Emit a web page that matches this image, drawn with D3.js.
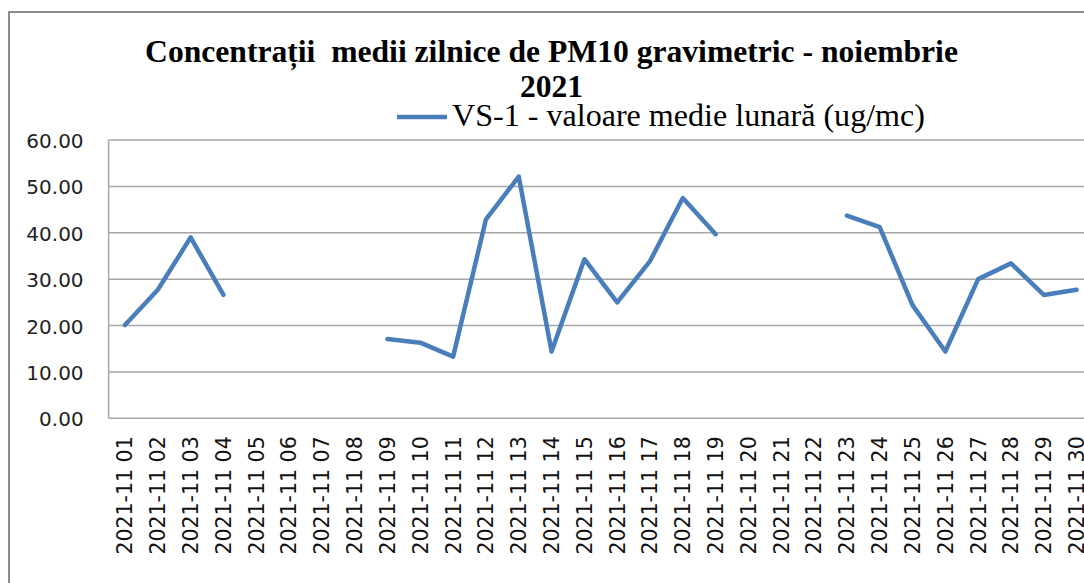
<!DOCTYPE html>
<html><head><meta charset="utf-8">
<script src="https://cdn.jsdelivr.net/npm/d3@7"></script>
<style>body{margin:0;background:#fff;overflow:hidden}</style>
</head><body>
<svg id="c" width="1084" height="583"></svg>
<script>
const days = ["2021-11 01","2021-11 02","2021-11 03","2021-11 04","2021-11 05","2021-11 06","2021-11 07","2021-11 08","2021-11 09","2021-11 10","2021-11 11","2021-11 12","2021-11 13","2021-11 14","2021-11 15","2021-11 16","2021-11 17","2021-11 18","2021-11 19","2021-11 20","2021-11 21","2021-11 22","2021-11 23","2021-11 24","2021-11 25","2021-11 26","2021-11 27","2021-11 28","2021-11 29","2021-11 30"];
const values = [20.1,27.7,39.0,26.6,null,null,null,null,17.1,16.3,13.3,42.9,52.1,14.4,34.3,25.0,33.9,47.5,39.7,null,null,null,43.7,41.2,24.4,14.4,30.0,33.4,26.6,27.7];
const yTicks = [0,10,20,30,40,50,60];
const titleLines = ["Concentrații  medii zilnice de PM10 gravimetric - noiembrie","2021"];
const seriesName = "VS-1 - valoare medie lunară (ug/mc)";

const svg = d3.select("#c");
const color = "#4a7ebb";
const L = 108.6, R = 1093, T = 140, B = 418.3;

// outer chart border
svg.append("rect").attr("x",9).attr("y",12).attr("width",1200).attr("height",700)
  .attr("fill","none").attr("stroke","#8c8c8c").attr("stroke-width",2);

const x = d3.scaleBand().domain(days).range([L,R]);
const y = d3.scaleLinear().domain([0,60]).range([B,T]);

// gridlines
svg.append("g").selectAll("line").data(yTicks).join("line")
  .attr("x1",L).attr("x2",R).attr("y1",d=>y(d)).attr("y2",d=>y(d))
  .attr("stroke","#a6a6a6").attr("stroke-width",1.5);
// left border of plot area
svg.append("line").attr("x1",L).attr("x2",L).attr("y1",T).attr("y2",B)
  .attr("stroke","#a6a6a6").attr("stroke-width",1.5);

// y axis labels
const yAxis = d3.axisLeft(y).tickValues(yTicks).tickSize(0).tickPadding(25).tickFormat(d3.format(".2f"));
const gy = svg.append("g").attr("transform",`translate(${L},0)`).call(yAxis);
gy.select(".domain").remove();
gy.selectAll("text").attr("font-family","DejaVu Sans").attr("font-size",20).attr("fill","#222").attr("dy","0.38em");

// x axis labels
const xAxis = d3.axisBottom(x).tickSize(0).tickPadding(0);
const gx = svg.append("g").attr("transform",`translate(0,${B})`).call(xAxis);
gx.select(".domain").remove();
gx.selectAll("text").attr("font-family","DejaVu Sans").attr("font-size",20.5).attr("fill","#111")
  .attr("transform","rotate(-90)").attr("text-anchor","end").attr("x",-18).attr("y",0).attr("dy","0.36em");

// line
const line = d3.line().defined(d=>d.v!=null).x(d=>x(d.day)+x.bandwidth()/2).y(d=>y(d.v));
svg.append("path").datum(days.map((d,i)=>({day:d,v:values[i]})))
  .attr("d",line).attr("fill","none").attr("stroke",color).attr("stroke-width",4.5)
  .attr("stroke-linejoin","round").attr("stroke-linecap","round");

// helper: fit text to width
function fit(sel, w){
  const len = sel.node().getComputedTextLength();
  const fs = +sel.attr("font-size");
  sel.attr("font-size", fs*w/len);
}

// title
const t1 = svg.append("text").attr("x",551.5).attr("y",62).attr("text-anchor","middle")
  .attr("font-family","Liberation Serif").attr("font-weight","bold").attr("font-size",30)
  .attr("fill","#000").style("white-space","pre").text(titleLines[0]);
fit(t1, 813);
const fsT = t1.attr("font-size");
svg.append("text").attr("x",551.5).attr("y",97).attr("text-anchor","middle")
  .attr("font-family","Liberation Serif").attr("font-weight","bold").attr("font-size",fsT)
  .attr("fill","#000").text(titleLines[1]);

// legend
svg.append("line").attr("x1",397).attr("x2",447).attr("y1",117).attr("y2",117)
  .attr("stroke",color).attr("stroke-width",4.5);
const lt = svg.append("text").attr("x",452).attr("y",126).attr("font-family","Liberation Serif")
  .attr("font-size",30).attr("fill","#000").text(seriesName);
fit(lt, 473);
</script>
</body></html>
